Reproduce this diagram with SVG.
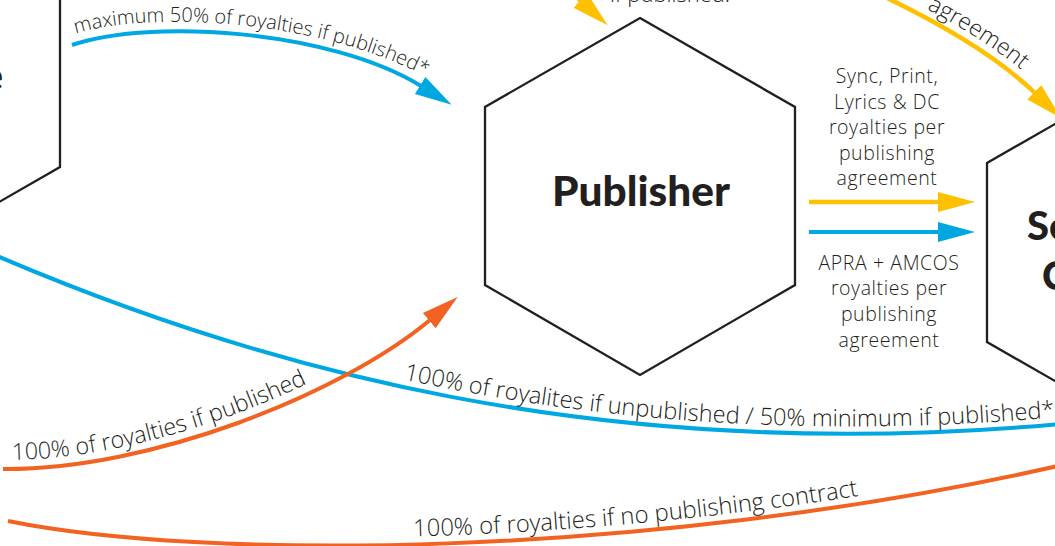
<svg xmlns="http://www.w3.org/2000/svg" width="1055" height="546" viewBox="0 0 1055 546">
<defs>
<style>
.hex{fill:#fff;stroke:#231F20;stroke-width:2.3}
.t{font-family:"Open Sans","Noto Sans",sans-serif;font-weight:300;fill:#231F20}
.b{font-family:Lato,"Noto Sans",sans-serif;font-weight:900;fill:#231F20}
.blue{fill:none;stroke:#00A8E1;stroke-width:4}
.yel{fill:none;stroke:#FFC000;stroke-width:4.5}
.org{fill:none;stroke:#F26322;stroke-width:4}
</style>
<marker id="mb" viewBox="0 -11 38 22" refX="1" refY="0" markerWidth="38" markerHeight="22" markerUnits="userSpaceOnUse" orient="auto"><path d="M0,-10 L37,0 L0,10 Z" fill="#00A8E1"/></marker>
<marker id="my" viewBox="0 -11 38 22" refX="1" refY="0" markerWidth="38" markerHeight="22" markerUnits="userSpaceOnUse" orient="auto"><path d="M0,-10 L37,0 L0,10 Z" fill="#FFC000"/></marker>
<marker id="mo" viewBox="0 -11 38 22" refX="1" refY="0" markerWidth="38" markerHeight="22" markerUnits="userSpaceOnUse" orient="auto"><path d="M0,-10 L37,0 L0,10 Z" fill="#F26322"/></marker>
<path id="tp-top" d="M72,35 C150,8 338,21 440,85"/>
<path id="tp-long" d="M0,249 C250,357 600,460 1070,416"/>
<path id="tp-o1" d="M3,460 C150,461 335,386 425,311"/>
<path id="tp-o2" d="M8,513 C200,552 640,552 1058,458"/>
<path id="tp-agr" d="M891,-9 Q991,39 1041,87"/>
</defs>

<g id="connectors">
<path class="blue" d="M72,45 C150,18 330,30 421,86" marker-end="url(#mb)"/>
<path class="blue" d="M-10,253 C250,365 600,468 1070,423"/>
<path class="org" d="M3,469 C150,470 340,395 430,320" marker-end="url(#mo)"/>
<path class="org" d="M8,521 C200,560 640,560 1058,466"/>
<path class="yel" d="M548,-29 L581,1" marker-end="url(#my)"/>
<path class="yel" d="M885,-3 Q985,45 1035,93" marker-end="url(#my)"/>
<path class="yel" d="M809,202 H939" marker-end="url(#my)"/>
<path class="blue" d="M809,232 H939" marker-end="url(#mb)"/>
<text class="t" font-size="20"><textPath href="#tp-top" startOffset="4">maximum 50% of royalties if published*</textPath></text>
<text class="t" font-size="23.6"><textPath href="#tp-long" startOffset="425">100% of royalites if unpublished / 50% minimum if published*</textPath></text>
<text class="t" font-size="23.3"><textPath href="#tp-o1" startOffset="9">100% of royalties if published</textPath></text>
<text class="t" font-size="23.8"><textPath href="#tp-o2" startOffset="407">100% of royalties if no publishing contract</textPath></text>
<text class="t" font-size="23"><textPath href="#tp-agr" startOffset="40">agreement</textPath></text>
<text class="t" font-size="22" x="610" y="2">if published.</text>
<g class="t" font-size="19.5" letter-spacing="0.6" text-anchor="middle">
<text x="887" y="83">Sync, Print,</text>
<text x="887" y="109">Lyrics &amp; DC</text>
<text x="887" y="134">royalties per</text>
<text x="887" y="160">publishing</text>
<text x="887" y="185">agreement</text>
<text x="889" y="270">APRA + AMCOS</text>
<text x="889" y="295">royalties per</text>
<text x="889" y="321">publishing</text>
<text x="889" y="347">agreement</text>
</g>
</g>

<g id="node-left">
<polygon class="hex" points="-95,-101 60,-12 60,167 -95,256 -250,167 -250,-12"/>
<text class="b" font-size="40" x="3" y="90" text-anchor="end">e</text>
</g>
<g id="node-publisher">
<polygon class="hex" points="640,18 795,107 795,285 640,375 485,285 485,107"/>
<text class="b" font-size="41" x="641" y="206" text-anchor="middle" textLength="178" lengthAdjust="spacingAndGlyphs">Publisher</text>
</g>
<g id="node-songwriter">
<polygon class="hex" points="1142,74 1297,163 1297,342 1142,431 987,342 987,163"/>
<text class="b" font-size="40" x="1027" y="240">So</text>
<text class="b" font-size="40" x="1042" y="290">C</text>
</g>
</svg>
